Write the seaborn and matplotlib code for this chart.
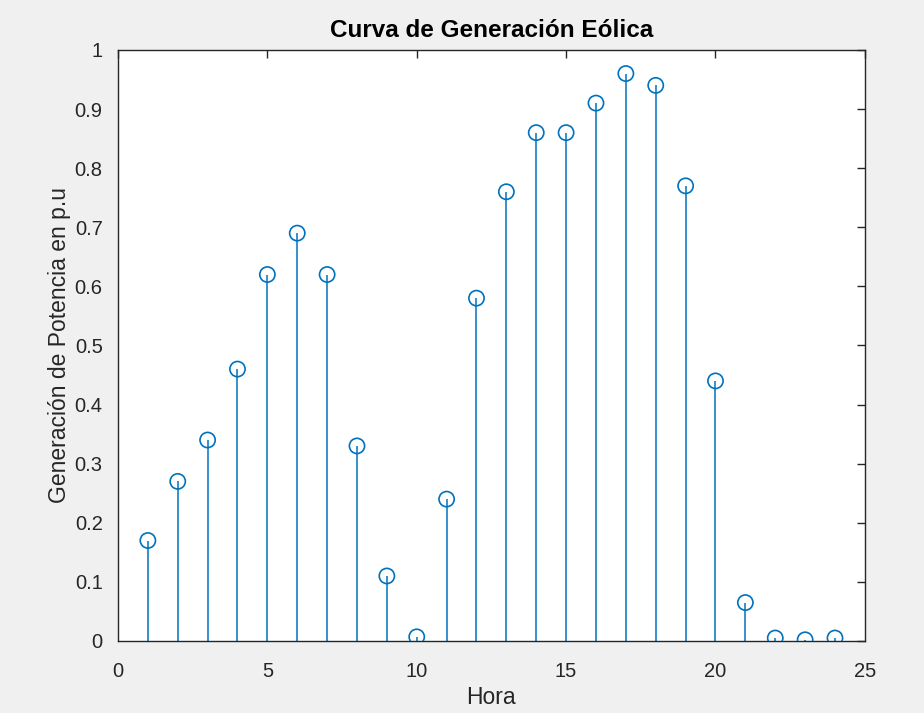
import matplotlib
matplotlib.use("Agg")
import matplotlib.pyplot as plt
import seaborn as sns
import pandas as pd

# Hourly wind generation (per unit)
horas = list(range(1, 25))
potencia = [0.17, 0.27, 0.34, 0.46, 0.62, 0.69, 0.62, 0.33, 0.11, 0.007,
            0.24, 0.58, 0.76, 0.86, 0.86, 0.91, 0.96, 0.94, 0.77, 0.44,
            0.065, 0.005, 0.002, 0.005]

x_ticks = [0, 5, 10, 15, 20, 25]
y_ticks = [0, 0.1, 0.2, 0.3, 0.4, 0.5, 0.6, 0.7, 0.8, 0.9, 1]
y_tick_labels = ["0", "0.1", "0.2", "0.3", "0.4", "0.5", "0.6", "0.7", "0.8", "0.9", "1"]

df = pd.DataFrame({"Hora": horas, "Potencia": potencia})

sns.set_style("white")
plt.rcParams["font.family"] = ["Liberation Sans", "DejaVu Sans"]

stem_color = "#0072BD"
text_color = "#262626"

fig = plt.figure(figsize=(9.24, 7.13), dpi=100, facecolor="#f0f0f0")
ax = fig.add_axes([0.1277, 0.101, 0.8083, 0.829])
ax.set_facecolor("white")

# stems
ax.vlines(df["Hora"], 0, df["Potencia"], color=stem_color, linewidth=1.1, zorder=2)
# open circle markers
sns.scatterplot(data=df, x="Hora", y="Potencia", ax=ax, marker="o", s=120,
                facecolor="none", edgecolor=stem_color, linewidth=1.2, zorder=3,
                legend=False)

ax.set_xlim(0, 25)
ax.set_ylim(0, 1)
ax.set_xticks(x_ticks)
ax.set_xticklabels([str(t) for t in x_ticks])
ax.set_yticks(y_ticks)
ax.set_yticklabels(y_tick_labels)

ax.tick_params(direction="in", length=6, width=1, colors=text_color,
               labelsize=14.5, top=True, right=True)
ax.tick_params(axis="x", pad=15)
ax.tick_params(axis="y", pad=11)
for sp in ax.spines.values():
    sp.set_visible(True)
    sp.set_color(text_color)
    sp.set_linewidth(1)

ax.set_xlabel("Hora", fontsize=16.5, color=text_color, labelpad=4)
ax.set_ylabel("Generación de Potencia en p.u", fontsize=16.5, color=text_color, labelpad=3)
ax.set_title("Curva de Generación Eólica", fontsize=17.5, fontweight="bold",
             color="black", pad=9)

fig.savefig("out.png", dpi=100, facecolor=fig.get_facecolor())
